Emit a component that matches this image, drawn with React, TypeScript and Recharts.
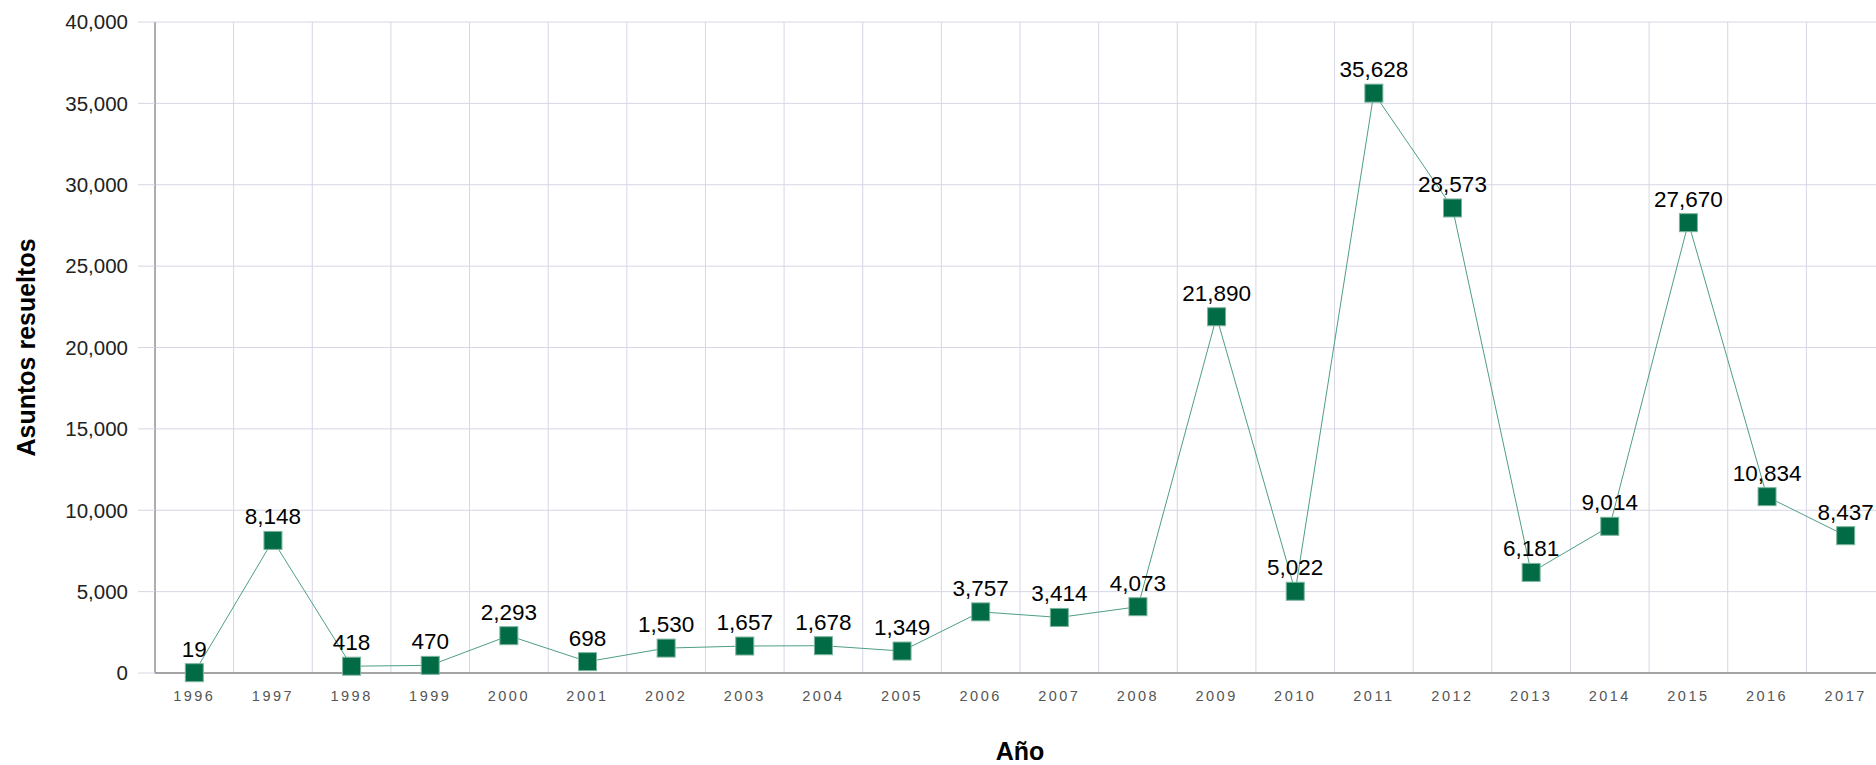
import React from "react";
import {
  CartesianGrid,
  LabelList,
  Line,
  LineChart,
  XAxis,
  YAxis,
} from "recharts";

const YEARS = [
  1996, 1997, 1998, 1999, 2000, 2001, 2002, 2003, 2004, 2005, 2006, 2007,
  2008, 2009, 2010, 2011, 2012, 2013, 2014, 2015, 2016, 2017,
];

const RESUELTOS = [
  19, 8148, 418, 470, 2293, 698, 1530, 1657, 1678, 1349, 3757, 3414, 4073,
  21890, 5022, 35628, 28573, 6181, 9014, 27670, 10834, 8437,
];

const Y_TICKS = [0, 5000, 10000, 15000, 20000, 25000, 30000, 35000, 40000];

// category edges, used for the vertical grid and the small tick marks
const EDGES = [...YEARS.map((y) => y - 0.5), YEARS[YEARS.length - 1] + 0.5];
const X_DOMAIN: [number, number] = [EDGES[0], EDGES[EDGES.length - 1]];

const data = YEARS.map((year, i) => ({ year, value: RESUELTOS[i] }));

const GRID = "#d6d6e6";
const AXIS = "#8c8c8c";
const LINE = "#4f9e85";
const MARK = "#006b45";

const fmt = (v: number) => Number(v).toLocaleString("en-US");

function SquareDot(props: any) {
  const { cx, cy, index } = props;
  if (cx == null || cy == null) return null;
  return (
    <rect
      key={index}
      x={cx - 9}
      y={cy - 9}
      width={18}
      height={18}
      fill={MARK}
      stroke="#7db59c"
      strokeWidth={1}
    />
  );
}

// edge axis only needs its tick lines, not labels
const NoLabel = () => <g />;

export default function App() {
  return (
    <div
      style={{
        position: "fixed",
        left: 0,
        top: 0,
        width: 1876,
        height: 765,
        overflow: "hidden",
        background: "#fff",
        fontFamily: "'Liberation Sans', Arial, sans-serif",
      }}
    >
      <LineChart
        width={1900}
        height={765}
        data={data}
        margin={{ top: 22, right: 15, left: 0, bottom: 0 }}
      >
        <CartesianGrid stroke={GRID} xAxisId="edges" />
        <XAxis
          xAxisId="edges"
          type="number"
          dataKey="year"
          domain={X_DOMAIN}
          allowDataOverflow
          ticks={EDGES}
          interval={0}
          tick={NoLabel}
          tickLine={{ stroke: GRID }}
          tickSize={7}
          axisLine={false}
          height={0}
        />
        <XAxis
          xAxisId="years"
          type="number"
          dataKey="year"
          domain={X_DOMAIN}
          allowDataOverflow
          ticks={YEARS}
          interval={0}
          tickLine={false}
          tickMargin={12}
          axisLine={{ stroke: AXIS, strokeWidth: 1.5 }}
          tick={{ fontSize: 14.5, fill: "#555", letterSpacing: 2.5 }}
          height={92}
          label={{
            content: ({ viewBox }: any) => (
              <text
                x={viewBox.x + viewBox.width / 2}
                y={viewBox.y + 78}
                textAnchor="middle"
                dominantBaseline="central"
                fontSize={25}
                fontWeight="bold"
                fill="#000"
              >
                Año
              </text>
            ),
          }}
        />
        <YAxis
          domain={[0, 40000]}
          ticks={Y_TICKS}
          width={155}
          tickFormatter={fmt}
          tickSize={17}
          tickMargin={10}
          tickLine={{ stroke: GRID }}
          axisLine={{ stroke: "#999", strokeWidth: 1.5 }}
          tick={{ fontSize: 20.5, fill: "#222" }}
          label={{
            content: ({ viewBox }: any) => {
              const x = 26;
              const y = viewBox.y + viewBox.height / 2;
              return (
                <text
                  x={x}
                  y={y}
                  transform={`rotate(-90, ${x}, ${y})`}
                  textAnchor="middle"
                  dominantBaseline="central"
                  fontSize={25}
                  fontWeight="bold"
                  fill="#000"
                >
                  Asuntos resueltos
                </text>
              );
            },
          }}
        />
        {/* invisible series so the edge axis has data of its own */}
        <Line
          xAxisId="edges"
          dataKey="value"
          stroke="none"
          dot={false}
          activeDot={false}
          legendType="none"
          isAnimationActive={false}
        />
        <Line
          xAxisId="years"
          dataKey="value"
          stroke={LINE}
          strokeWidth={1}
          dot={<SquareDot />}
          activeDot={false}
          isAnimationActive={false}
        >
          <LabelList
            dataKey="value"
            position="top"
            offset={16}
            formatter={(v: any) => fmt(v)}
            style={{ fontSize: 22.5, fill: "#000" }}
          />
        </Line>
      </LineChart>
    </div>
  );
}
